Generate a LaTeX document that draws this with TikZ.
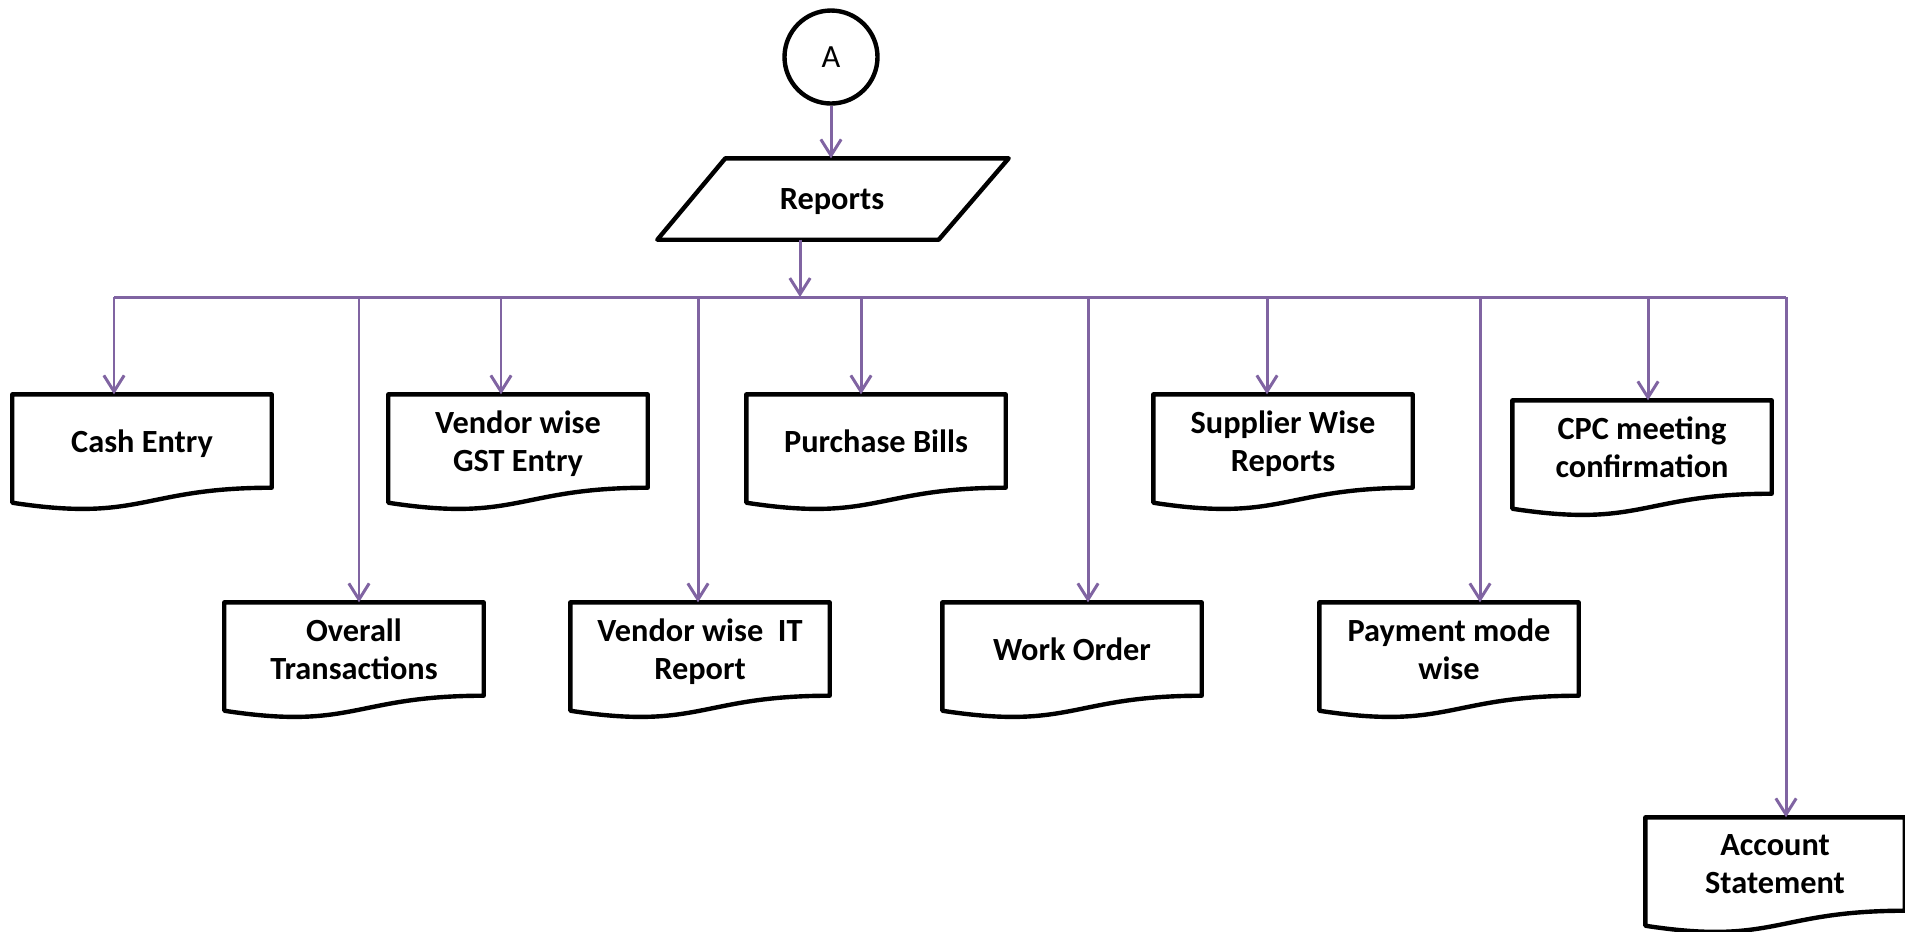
\documentclass[tikz,border=0pt]{standalone}
\usepackage{fontspec}
\setmainfont{Carlito}
\usetikzlibrary{arrows.meta}
\definecolor{linkpurple}{RGB}{128,100,162}
\begin{document}
\begin{tikzpicture}[line join=round,
  arr/.style={draw=linkpurple, line width=0.85pt, -{Straight Barb[length=4.6pt,width=5.8pt]}},
  bus/.style={draw=linkpurple, line width=0.85pt},
  doc/.style={minimum width=2.58cm, minimum height=0.92cm, inner sep=0pt, text depth=0pt, align=center, font=\fontsize{9.2}{10.8}\selectfont\bfseries},
  docline/.style={draw, line width=1.25pt}]
\useasboundingbox (0,0) rectangle (19.05,-9.31);
\node [circle, docline, minimum size=0.93cm, inner sep=0pt, font=\fontsize{9.2}{10.8}\selectfont] (a) at (8.31,-0.57) {A};
\node [doc, minimum width=2.12cm, minimum height=0.80cm] (rep) at (8.32,-1.99) {Reports};
% first row
\node [doc] (cash) at (1.42,-4.41) {Cash Entry};
\node [doc] (gst) at (5.18,-4.41) {Vendor wise\\GST Entry};
\node [doc] (purchase) at (8.76,-4.41) {Purchase Bills};
\node [doc] (supplier) at (12.83,-4.41) {Supplier Wise\\Reports};
\node [doc] (cpc) at (16.42,-4.47) {CPC meeting\\confirmation};
% second row
\node [doc] (overall) at (3.54,-6.49) {Overall\\Transactions};
\node [doc] (it) at (7.00,-6.49) {Vendor wise \ IT\\Report};
\node [doc] (work) at (10.72,-6.49) {Work Order};
\node [doc] (payment) at (14.49,-6.49) {Payment mode\\wise};
\node [doc] (account) at (17.75,-8.64) {Account\\Statement};
% outlines
\draw [docline] (rep.north west) -- ([xshift=0.70cm]rep.north east) -- (rep.south east) -- ([xshift=-0.68cm]rep.south west) -- cycle;
\foreach \n in {cash,gst,purchase,supplier,cpc,overall,it,work,payment,account}
  \draw [docline] (\n.north west) -- (\n.north east) -- (\n.south east)
    .. controls (\n.south) and ([yshift=-0.35cm]\n.south) .. ([yshift=-0.15cm]\n.south west) -- cycle;
% connectors
\coordinate (b-rep) at (8.00,-2.97);
\path [arr] (a.south) -- (a.south |- rep.north);
\path [arr] (rep.south -| b-rep) -- (b-rep);
\foreach \x/\n in {1.14/cash,3.59/overall,5.01/gst,6.98/it,8.61/purchase,10.88/work,12.67/supplier,14.80/payment,16.48/cpc,17.86/account}
{
  \coordinate (b-\n) at (\x,-2.97);
  \path [arr] (b-\n) -- (b-\n |- \n.north);
}
\path [bus] (b-cash) -- (b-account);
\end{tikzpicture}
\end{document}
